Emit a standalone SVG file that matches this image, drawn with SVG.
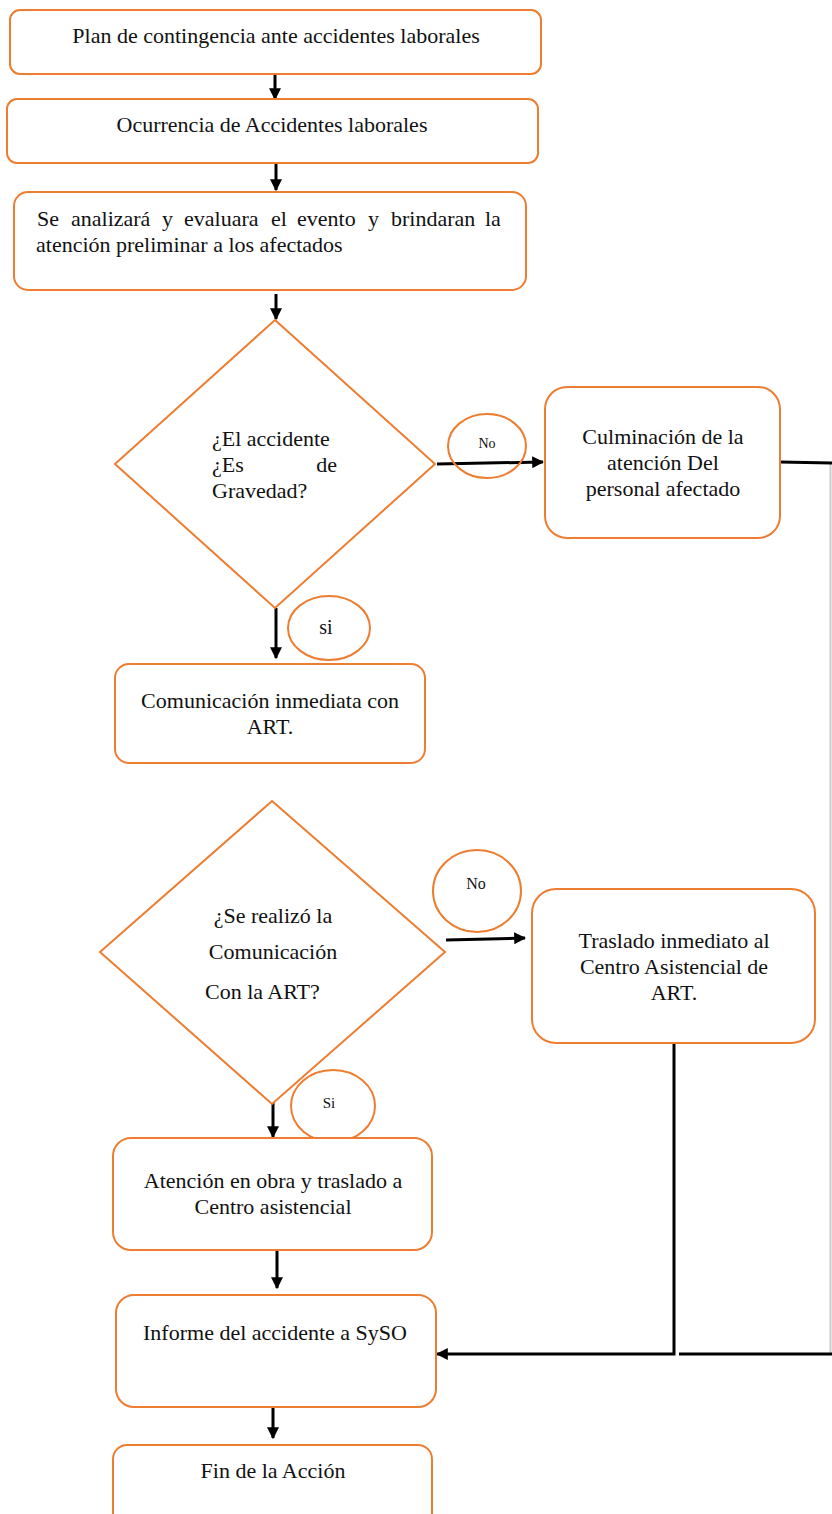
<svg xmlns="http://www.w3.org/2000/svg" width="832" height="1514" viewBox="0 0 832 1514">
<defs>
<style>
.n{fill:#fff;stroke:#ED7D31;stroke-width:2}
.t{font-family:"Liberation Serif","DejaVu Serif","Times New Roman",serif;font-size:22px;fill:#111}
.c{text-anchor:middle}
.e{stroke:#000;stroke-width:3;fill:none}
</style>
<marker id="ah" viewBox="0 0 10 10" refX="9" refY="5" markerWidth="4" markerHeight="4" orient="auto" markerUnits="strokeWidth">
<path d="M0,0 L10,5 L0,10 z" fill="#000"/>
</marker>
</defs>
<rect width="832" height="1514" fill="#fff"/>
<line x1="830.5" y1="463" x2="830.5" y2="1354" stroke="#ccc" stroke-width="2"/>

<g id="connectors">
<line class="e" x1="275" y1="74" x2="275" y2="99" marker-end="url(#ah)"/>
<line class="e" x1="276" y1="163" x2="276" y2="190" marker-end="url(#ah)"/>
<line class="e" x1="276" y1="294" x2="276" y2="319" marker-end="url(#ah)"/>
<line class="e" x1="437" y1="464" x2="543" y2="462" marker-end="url(#ah)"/>
<line class="e" x1="780" y1="462" x2="832" y2="463"/>
<line class="e" x1="276" y1="608" x2="276" y2="658" marker-end="url(#ah)"/>
<line class="e" x1="446" y1="940" x2="525" y2="938" marker-end="url(#ah)"/>
<polyline class="e" points="674,1043 674,1354 437,1354" marker-end="url(#ah)"/>
<line class="e" x1="679" y1="1354" x2="832" y2="1354"/>
<line class="e" x1="273" y1="1090" x2="273" y2="1137" marker-end="url(#ah)"/>
<line class="e" x1="277" y1="1250" x2="277" y2="1288" marker-end="url(#ah)"/>
<line class="e" x1="273" y1="1407" x2="273" y2="1438" marker-end="url(#ah)"/>
</g>

<g id="n1"><rect class="n" x="10" y="10" width="531" height="64" rx="10"/>
<text class="t c" x="276" y="43">Plan de contingencia ante accidentes laborales</text></g>

<g id="n2"><rect class="n" x="7" y="99" width="531" height="64" rx="10"/>
<text class="t c" x="272" y="132">Ocurrencia de Accidentes laborales</text></g>

<g id="n3"><rect class="n" x="14" y="192" width="512" height="98" rx="14"/>
<text class="t" y="226"><tspan x="37">Se</tspan><tspan x="71">analizará</tspan><tspan x="162">y</tspan><tspan x="184">evaluara</tspan><tspan x="271">el</tspan><tspan x="297">evento</tspan><tspan x="368">y</tspan><tspan x="391">brindaran</tspan><tspan x="485">la</tspan></text>
<text class="t" x="36" y="252">atención preliminar a los afectados</text></g>

<g id="d1"><polygon class="n" points="275,320 435,464 275,608 115,464"/>
<text class="t" x="212" y="446">¿El accidente</text>
<text class="t" x="212" y="472">¿Es</text>
<text class="t" x="337" y="472" text-anchor="end">de</text>
<text class="t" x="212" y="498">Gravedad?</text></g>

<g id="l1"><ellipse class="n" cx="487" cy="446" rx="39" ry="32" fill-opacity="0"/>
<text class="t c" x="487" y="448" style="font-size:14px">No</text></g>

<g id="n4"><rect class="n" x="545" y="387" width="235" height="151" rx="22"/>
<text class="t c" x="663" y="444">Culminación de la</text>
<text class="t c" x="663" y="470">atención Del</text>
<text class="t c" x="663" y="496">personal afectado</text></g>

<g id="l2"><ellipse class="n" cx="329" cy="628" rx="41" ry="32"/>
<text class="t c" x="326" y="634" style="font-size:20px">si</text></g>

<g id="n5"><rect class="n" x="115" y="664" width="310" height="99" rx="14"/>
<text class="t c" x="270" y="708">Comunicación inmediata con</text>
<text class="t c" x="270" y="734">ART.</text></g>

<g id="d2"><polygon class="n" points="272,801 445,952 272,1104 100,952"/>
<text class="t c" x="273" y="923">¿Se realizó la</text>
<text class="t c" x="273" y="959">Comunicación</text>
<text class="t" x="205" y="999">Con la ART?</text></g>

<g id="l3"><ellipse class="n" cx="477" cy="891" rx="44" ry="41"/>
<text class="t c" x="476" y="889" style="font-size:16px">No</text></g>

<g id="n6"><rect class="n" x="532" y="889" width="283" height="154" rx="24"/>
<text class="t c" x="674" y="948">Traslado inmediato al</text>
<text class="t c" x="674" y="974">Centro Asistencial de</text>
<text class="t c" x="674" y="1000">ART.</text></g>

<g id="l4"><ellipse class="n" cx="333" cy="1106" rx="42" ry="36"/>
<text class="t c" x="329" y="1108" style="font-size:15px">Si</text></g>

<g id="n7"><rect class="n" x="113" y="1138" width="319" height="112" rx="18"/>
<text class="t c" x="273" y="1188">Atención en obra y traslado a</text>
<text class="t c" x="273" y="1214">Centro asistencial</text></g>

<g id="n8"><rect class="n" x="116" y="1295" width="320" height="112" rx="18"/>
<text class="t c" x="275" y="1340">Informe del accidente a SySO</text></g>

<g id="n9"><rect class="n" x="113" y="1445" width="319" height="90" rx="14"/>
<text class="t c" x="273" y="1478">Fin de la Acción</text></g>
</svg>
